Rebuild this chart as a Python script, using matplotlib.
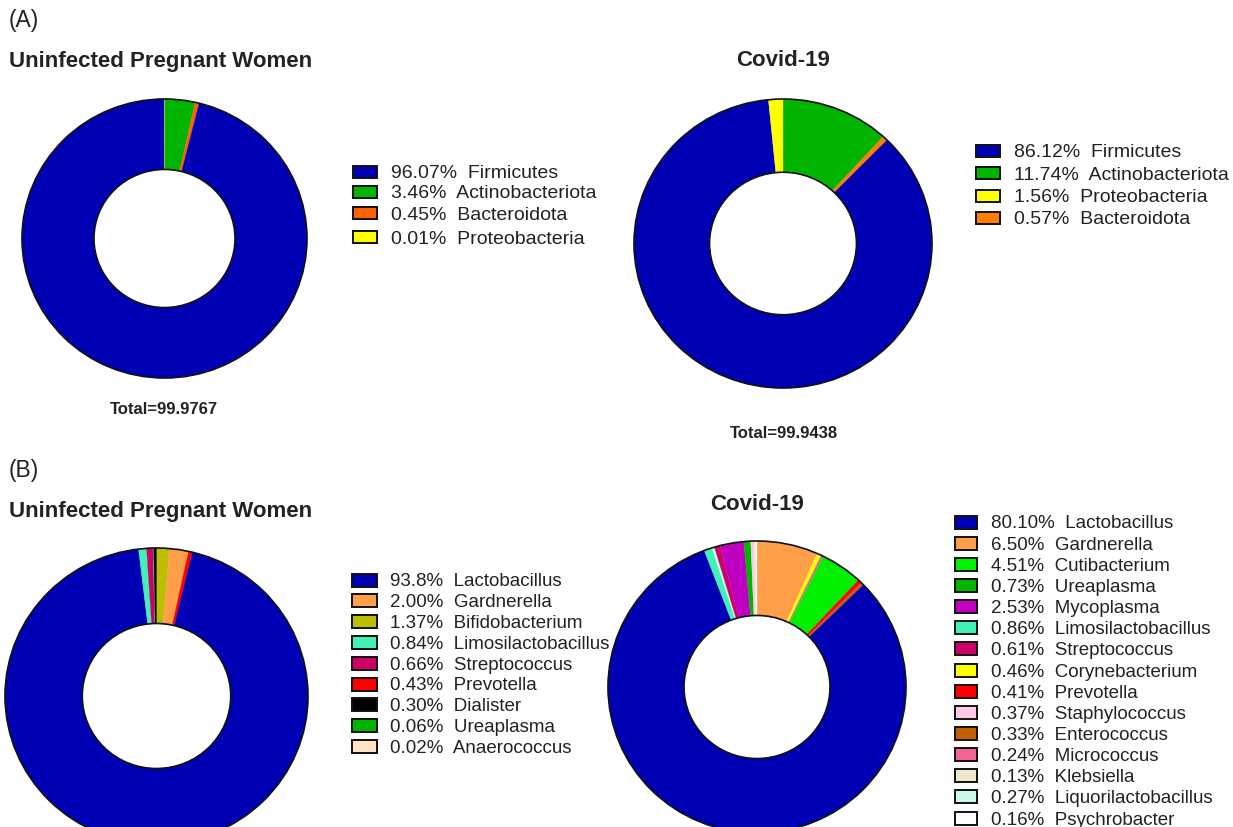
import matplotlib
matplotlib.use("Agg")
import matplotlib.pyplot as plt
from matplotlib.patches import Circle, Rectangle

plt.rcParams["font.family"] = ["Liberation Sans", "DejaVu Sans"]

W, H = 1233, 827
DPI = 100

# ---- (A) phylum level -------------------------------------------------
phylum_uninf_names = ["Firmicutes", "Actinobacteriota", "Bacteroidota", "Proteobacteria"]
phylum_uninf_pct = ["96.07", "3.46", "0.45", "0.01"]
phylum_uninf_colors = ["#0000b4", "#00b400", "#ff6000", "#ffff00"]
phylum_uninf_total = "99.9767"

phylum_covid_names = ["Firmicutes", "Actinobacteriota", "Proteobacteria", "Bacteroidota"]
phylum_covid_pct = ["86.12", "11.74", "1.56", "0.57"]
phylum_covid_colors = ["#0000b4", "#00b400", "#ffff00", "#ff8000"]
phylum_covid_total = "99.9438"

# wedge sequence, clockwise from 12 o'clock
phylum_wedge_order = ["Actinobacteriota", "Bacteroidota", "Firmicutes", "Proteobacteria"]

# ---- (B) genus level --------------------------------------------------
genus_uninf_names = ["Lactobacillus", "Gardnerella", "Bifidobacterium", "Limosilactobacillus",
                     "Streptococcus", "Prevotella", "Dialister", "Ureaplasma", "Anaerococcus"]
genus_uninf_pct = ["93.8", "2.00", "1.37", "0.84", "0.66", "0.43", "0.30", "0.06", "0.02"]
genus_uninf_colors = ["#0000b4", "#ff9f4a", "#bebe00", "#40f0b4", "#cc0066", "#ff0000",
                      "#000000", "#00b400", "#ffe4c4"]
genus_uninf_wedge_order = ["Bifidobacterium", "Gardnerella", "Prevotella", "Lactobacillus",
                           "Limosilactobacillus", "Streptococcus", "Ureaplasma",
                           "Anaerococcus", "Dialister"]

genus_covid_names = ["Lactobacillus", "Gardnerella", "Cutibacterium", "Ureaplasma", "Mycoplasma",
                     "Limosilactobacillus", "Streptococcus", "Corynebacterium", "Prevotella",
                     "Staphylococcus", "Enterococcus", "Micrococcus", "Klebsiella",
                     "Liquorilactobacillus", "Psychrobacter"]
genus_covid_pct = ["80.10", "6.50", "4.51", "0.73", "2.53", "0.86", "0.61", "0.46", "0.41",
                   "0.37", "0.33", "0.24", "0.13", "0.27", "0.16"]
genus_covid_colors = ["#0000b4", "#ff9f4a", "#00f000", "#00b400", "#c000c0", "#40f0b4",
                      "#cc0066", "#ffff00", "#ff0000", "#ffc8e6", "#c06000", "#f06496",
                      "#f0e8cc", "#c8f8e8", "#ffffff"]
genus_covid_wedge_order = ["Gardnerella", "Corynebacterium", "Micrococcus", "Cutibacterium",
                           "Prevotella", "Enterococcus", "Lactobacillus", "Limosilactobacillus",
                           "Liquorilactobacillus", "Streptococcus", "Mycoplasma", "Ureaplasma",
                           "Staphylococcus", "Klebsiella", "Psychrobacter"]

fig = plt.figure(figsize=(W / DPI, H / DPI), dpi=DPI)
fig.patch.set_facecolor("white")

# overlay axes in pixel units (origin top-left) for text and legend boxes
ov = fig.add_axes([0, 0, 1, 1])
ov.set_xlim(0, W)
ov.set_ylim(H, 0)
ov.axis("off")
ov.set_zorder(5)
ov.patch.set_alpha(0)


def donut(x0, x1, y0, y1, names, pct, colors, order, inner=0.495):
    """Ring chart whose outer ellipse fills the pixel box (x0..x1, y0..y1)."""
    ax = fig.add_axes([x0 / W, 1 - y1 / H, (x1 - x0) / W, (y1 - y0) / H])
    vals = [float(pct[names.index(n)]) for n in order]
    cols = [colors[names.index(n)] for n in order]
    wedges, _ = ax.pie(vals, colors=cols, startangle=90, counterclock=False, radius=1,
                       wedgeprops=dict(width=1 - inner, linewidth=0.2))
    for w in wedges:
        w.set_edgecolor(w.get_facecolor())
    ax.set_aspect("auto")
    ax.set_xlim(-1, 1)
    ax.set_ylim(-1, 1)
    ax.axis("off")
    for r in (1.0, inner):
        ax.add_patch(Circle((0, 0), r, fill=False, ec="#111111", lw=1.2, clip_on=False, zorder=3))
    return ax


def legend(xbox, ys, names, pct, colors, xtext, fs=14, bw=24, bh=12):
    for y, n, p, c in zip(ys, names, pct, colors):
        ov.add_patch(Rectangle((xbox, y - bh / 2), bw, bh, fc=c, ec="#111111", lw=1.4))
        ov.text(xtext, y, f"{p}%  {n}", fontsize=fs, va="center_baseline", ha="left",
                color="#222222")


# panel letters and titles
ov.text(9, 21, "(A)", fontsize=16.5, va="center", ha="left", color="#222222")
ov.text(9, 471, "(B)", fontsize=16.5, va="center", ha="left", color="#222222")
ov.text(9, 62, "Uninfected Pregnant Women", fontsize=16, fontweight="bold", va="center", ha="left",
        color="#222222")
ov.text(783, 61, "Covid-19", fontsize=16, fontweight="bold", va="center", ha="center", color="#222222")
ov.text(9, 511, "Uninfected Pregnant Women", fontsize=16, fontweight="bold", va="center", ha="left",
        color="#222222")
ov.text(757, 505, "Covid-19", fontsize=16, fontweight="bold", va="center", ha="center", color="#222222")

# (A) rings
donut(22, 307, 99, 378, phylum_uninf_names, phylum_uninf_pct, phylum_uninf_colors, phylum_wedge_order)
donut(634, 932, 99, 388, phylum_covid_names, phylum_covid_pct, phylum_covid_colors, phylum_wedge_order,
      inner=0.493)
ov.text(164, 410, f"Total={phylum_uninf_total}", fontsize=12, fontweight="bold", va="center",
        ha="center", color="#222222")
ov.text(784, 433, f"Total={phylum_covid_total}", fontsize=12, fontweight="bold", va="center",
        ha="center", color="#222222")

legend(353, [172, 192, 213, 237], phylum_uninf_names, phylum_uninf_pct, phylum_uninf_colors, 391)
legend(976, [150.5, 173, 196, 218], phylum_covid_names, phylum_covid_pct, phylum_covid_colors, 1014)

# (B) rings (cut off by the lower figure edge)
donut(5, 308, 548, 844, genus_uninf_names, genus_uninf_pct, genus_uninf_colors, genus_uninf_wedge_order,
      inner=0.49)
donut(608, 906, 541, 833, genus_covid_names, genus_covid_pct, genus_covid_colors, genus_covid_wedge_order,
      inner=0.49)

ys_bl = [580 + 20.8 * i for i in range(len(genus_uninf_names))]
legend(352, ys_bl, genus_uninf_names, genus_uninf_pct, genus_uninf_colors, 390, fs=13.5, bw=25, bh=13)
ys_br = [522 + 21.15 * i for i in range(len(genus_covid_names))]
legend(955, ys_br, genus_covid_names, genus_covid_pct, genus_covid_colors, 991, fs=13.5, bw=22, bh=13)

fig.savefig("out.png", dpi=DPI, facecolor="white")
